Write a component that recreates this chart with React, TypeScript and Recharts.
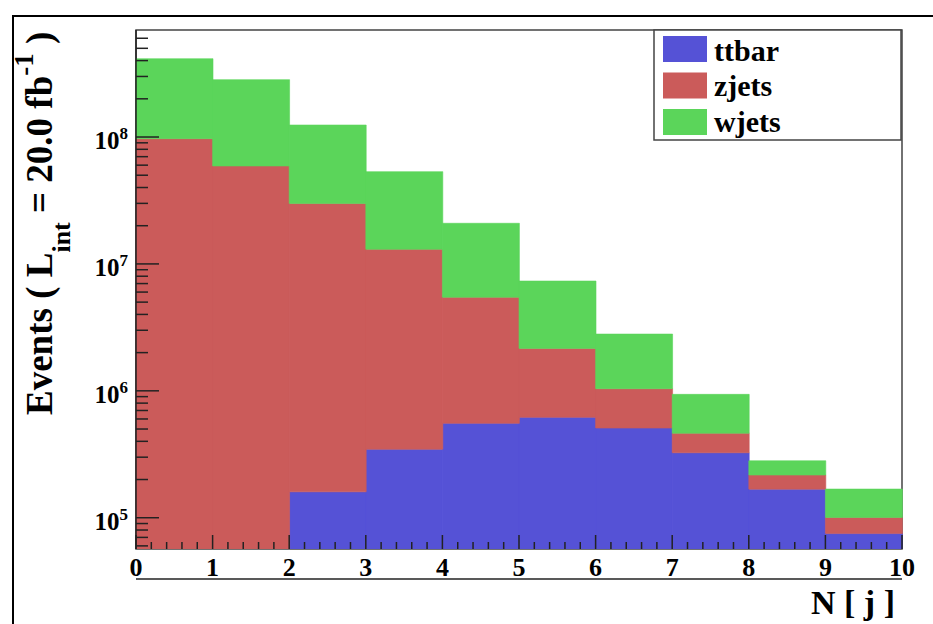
import React from 'react';
import { ComposedChart, Bar, XAxis, YAxis, ReferenceArea } from 'recharts';

// Jet-multiplicity bins (lower edges) and event yields per process
const nJets = [0, 1, 2, 3, 4, 5, 6, 7, 8, 9];
const ttbar = [0, 0, 1.6e5, 3.46e5, 5.54e5, 6.18e5, 5.09e5, 3.25e5, 1.68e5, 7.5e4];
const zjets = [9.7e7, 5.91e7, 2.974e7, 1.268e7, 4.906e6, 1.542e6, 5.3e5, 1.38e5, 4.9e4, 2.55e4];
const wjets = [3.17e8, 2.24e8, 9.44e7, 4.03e7, 1.544e7, 5.17e6, 1.761e6, 4.75e5, 6.4e4, 6.77e4];

const seriesNames = ['ttbar', 'zjets', 'wjets'];
const seriesColors = ['#5552d6', '#cb5b5a', '#5bd55a'];

// Axis ticks
const xMajorTicks = [0, 1, 2, 3, 4, 5, 6, 7, 8, 9, 10];
const xMinorPerMajor = 5;
const yMajorTicks = [1e5, 1e6, 1e7, 1e8];
const yDecades = [1e4, 1e5, 1e6, 1e7, 1e8];
const Y_MIN = 5.67e4;
const Y_MAX = 6.97e8;

const xTicks: number[] = [];
xMajorTicks.forEach((t, i) => {
  xTicks.push(t);
  if (i < xMajorTicks.length - 1) {
    for (let k = 1; k < xMinorPerMajor; k++) xTicks.push(t + k / xMinorPerMajor);
  }
});
const yTicks: number[] = [];
yDecades.forEach((d) => {
  for (let m = 1; m <= 9; m++) {
    const v = m * d;
    if (v >= Y_MIN && v <= Y_MAX * 1.0001) yTicks.push(v);
  }
});

const data = nJets.map((n, i) => ({
  nj: n,
  ttbar: ttbar[i],
  zjets: zjets[i],
  wjets: wjets[i],
}));

// Layout
const W = 933;
const H = 624;
const MARGIN = { top: 30, right: 31, left: 0, bottom: 0 };
const Y_AXIS_W = 136;
const X_AXIS_H = 75;
const PLOT_LEFT = MARGIN.left + Y_AXIS_W;
const PLOT_BOTTOM = H - MARGIN.bottom - X_AXIS_H;

const FONT = "'Liberation Serif', 'Times New Roman', serif";
const AXIS_COLOR = '#222';

const XTick = (props: any) => {
  const { x, payload } = props;
  const v = payload.value as number;
  const major = Math.abs(v - Math.round(v)) < 1e-6;
  const len = major ? 14 : 7;
  return (
    <g>
      <line x1={x} x2={x} y1={PLOT_BOTTOM} y2={PLOT_BOTTOM - len} stroke={AXIS_COLOR} strokeWidth={1.5} />
      {major && (
        <text x={x} y={PLOT_BOTTOM + 27} textAnchor="middle" fontFamily={FONT} fontWeight="bold" fontSize={26} fill="#000">
          {Math.round(v)}
        </text>
      )}
    </g>
  );
};

const YTick = (props: any) => {
  const { y, payload } = props;
  const v = payload.value as number;
  const exp = Math.log10(v);
  const major = Math.abs(exp - Math.round(exp)) < 1e-6;
  const len = major ? 23 : 12;
  return (
    <g>
      <line x1={PLOT_LEFT} x2={PLOT_LEFT + len} y1={y} y2={y} stroke={AXIS_COLOR} strokeWidth={1.5} />
      {major && (
        <text x={PLOT_LEFT - 8} y={y + 12} textAnchor="end" fontFamily={FONT} fontWeight="bold" fontSize={25} fill="#000">
          10
          <tspan dy={-10} fontSize={17}>
            {Math.round(exp)}
          </tspan>
        </text>
      )}
    </g>
  );
};

const YTitle = () => (
  <text
    transform="rotate(-90)"
    x={-415}
    y={52}
    fontFamily={FONT}
    fontWeight="bold"
    fontSize={37}
    fill="#000"
  >
    Events ( L
    <tspan dy={18} fontSize={26}>int</tspan>
    <tspan dy={-18}> = 20.0 fb</tspan>
    <tspan dy={-19} fontSize={27}>-1</tspan>
    <tspan dy={19}> )</tspan>
  </text>
);

const XTitle = () => (
  <text x={895} y={614} textAnchor="end" fontFamily={FONT} fontWeight="bold" fontSize={34} fill="#000">
    N [ j ]
  </text>
);

const LEGEND = { x: 654, y: 30, w: 247, h: 110 };

const LegendBox = () => (
  <svg
    width={W}
    height={H}
    style={{ position: 'absolute', left: 0, top: 0, pointerEvents: 'none' }}
  >
    <rect x={LEGEND.x} y={LEGEND.y} width={LEGEND.w} height={LEGEND.h} fill="#fff" stroke="#444" strokeWidth={1.5} />
    {seriesNames.map((name, i) => (
      <g key={name}>
        <rect x={LEGEND.x + 9} y={LEGEND.y + 6 + i * 36.5} width={44} height={26} fill={seriesColors[i]} />
        <text
          x={LEGEND.x + 60}
          y={LEGEND.y + 30.5 + i * 35.5}
          fontFamily={FONT}
          fontWeight="bold"
          fontSize={30}
          fill="#000"
        >
          {name}
        </text>
      </g>
    ))}
  </svg>
);

export default function App() {
  return (
    <div style={{ position: 'absolute', left: 0, top: 0, width: W, height: H, overflow: 'hidden', background: '#fff' }}>
      <div
        style={{
          position: 'absolute',
          left: 12,
          top: 15,
          width: W + 40,
          height: H + 40,
          borderLeft: '2px solid #000',
          borderTop: '2px solid #000',
        }}
      />
      <div style={{ position: 'absolute', left: 0, top: 0 }}>
        <ComposedChart width={W} height={H} data={data} margin={MARGIN} barCategoryGap={0} barGap={0}>
          <XAxis xAxisId="bins" dataKey="nj" type="category" hide />
          <XAxis
            xAxisId="num"
            dataKey="nj"
            type="number"
            domain={[0, 10]}
            allowDataOverflow
            ticks={xTicks}
            interval={0}
            tick={<XTick />}
            tickLine={false}
            axisLine={{ stroke: AXIS_COLOR, strokeWidth: 1.5 }}
            height={X_AXIS_H}
            label={<XTitle />}
          />
          <YAxis
            type="number"
            scale="log"
            domain={[Y_MIN, Y_MAX]}
            allowDataOverflow
            ticks={yTicks}
            interval={0}
            tick={<YTick />}
            tickLine={false}
            axisLine={{ stroke: AXIS_COLOR, strokeWidth: 1.5 }}
            width={Y_AXIS_W}
            label={<YTitle />}
          />
          {seriesNames.map((name, i) => (
            <Bar
              key={name}
              xAxisId="bins"
              dataKey={name}
              stackId="mc"
              fill={seriesColors[i]}
              stroke={seriesColors[i]}
              strokeWidth={0.6}
              isAnimationActive={false}
            />
          ))}
          <ReferenceArea
            xAxisId="num"
            x1={0}
            x2={10}
            y1={Y_MIN}
            y2={Y_MAX}
            fill="none"
            stroke="#444"
            strokeWidth={1.5}
            ifOverflow="visible"
          />
        </ComposedChart>
      </div>
      <LegendBox />
    </div>
  );
}
